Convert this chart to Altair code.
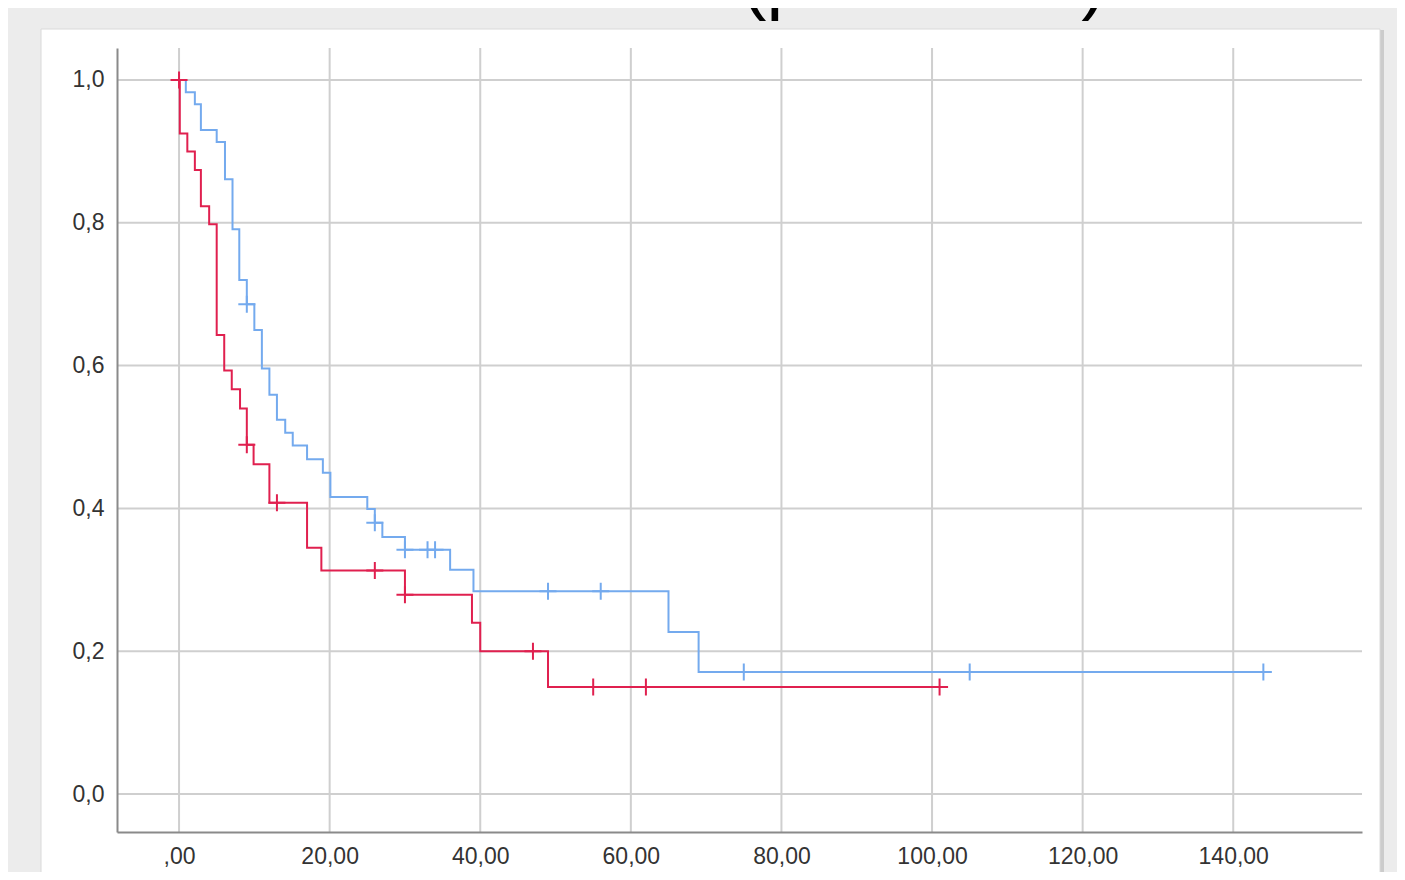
import altair as alt
import pandas as pd

# ---- data ----
x_ticks = [0, 20, 40, 60, 80, 100, 120, 140]
y_ticks = [0.0, 0.2, 0.4, 0.6, 0.8, 1.0]

blue_event_t = [0.9, 2.1, 2.9, 5.0, 6.1, 7.1, 8.0, 9.0, 10.0, 11.0, 12.0, 13.0, 14.1, 15.1,
                17.0, 19.1, 20.1, 25.0, 26.0, 27.0, 30.0, 36.0, 39.1, 65.0, 69.0]
blue_event_s = [0.983, 0.966, 0.930, 0.913, 0.861, 0.791, 0.720, 0.686, 0.650, 0.596, 0.559,
                0.524, 0.506, 0.488, 0.469, 0.450, 0.416, 0.399, 0.380, 0.360, 0.342, 0.314,
                0.284, 0.227, 0.171]
blue_end = 145.0
blue_censor = [9.0, 26.0, 30.0, 33.0, 34.0, 49.0, 56.0, 75.0, 105.0, 144.0]

red_event_t = [0.1, 1.1, 2.1, 2.9, 4.0, 5.0, 6.0, 7.0, 8.1, 9.0, 9.9, 12.0, 17.0, 18.9,
               30.0, 38.9, 40.0, 49.0]
red_event_s = [0.925, 0.900, 0.874, 0.823, 0.798, 0.643, 0.593, 0.567, 0.540, 0.489, 0.462,
               0.408, 0.345, 0.313, 0.279, 0.240, 0.200, 0.150]
red_end = 102.0
red_censor = [0.0, 9.0, 13.0, 26.0, 30.0, 47.0, 55.0, 62.0, 101.0]

title_text = "23.2 vs. 11.2 meses (p=0.0600)"

groups = ["azul", "rojo"]
colors = ["#74aaee", "#e0204f"]


def step_path(name, ts, ss, end):
    rows = [(name, 0, 0.0, 1.0)]
    prev = 1.0
    k = 1
    for t, s in zip(ts, ss):
        rows.append((name, k, t, prev)); k += 1
        rows.append((name, k, t, s)); k += 1
        prev = s
    rows.append((name, k, end, prev))
    return rows


def surv_at(ts, ss, t):
    val = 1.0
    for et, es in zip(ts, ss):
        if et <= t:
            val = es
    return val


path = pd.DataFrame(step_path(groups[0], blue_event_t, blue_event_s, blue_end)
                    + step_path(groups[1], red_event_t, red_event_s, red_end),
                    columns=["grupo", "orden", "t", "s"])
cens = pd.DataFrame(
    [(groups[0], t, surv_at(blue_event_t, blue_event_s, t)) for t in blue_censor]
    + [(groups[1], t, surv_at(red_event_t, red_event_s, t)) for t in red_censor],
    columns=["grupo", "t", "s"])

W, H = 1245, 784
xs = alt.Scale(domain=[-8.24, 157.1], nice=False, zero=False)
ys = alt.Scale(domain=[-0.0532, 1.0448], nice=False, zero=False)
cs = alt.Scale(domain=groups, range=colors)

one = pd.DataFrame({"k": [0]})

shadow = alt.Chart(one).mark_rect(fill="#c4c4c4", opacity=0.8).encode(
    x=alt.value(-74), x2=alt.value(1267), y=alt.value(-18), y2=alt.value(900))
panel = alt.Chart(one).mark_rect(fill="white", stroke="#dadada", strokeWidth=1).encode(
    x=alt.value(-76), x2=alt.value(1263), y=alt.value(-19), y2=alt.value(900))

vgrid = alt.Chart(pd.DataFrame({"v": x_ticks})).mark_rule(color="#cfcfcf", strokeWidth=2).encode(
    x=alt.X("v:Q", scale=xs), y=alt.value(0), y2=alt.value(H))
hgrid = alt.Chart(pd.DataFrame({"v": y_ticks})).mark_rule(color="#cfcfcf", strokeWidth=2).encode(
    y=alt.Y("v:Q", scale=ys), x=alt.value(0), x2=alt.value(W))

x_axis = alt.Axis(values=x_ticks, grid=False, ticks=False, domainColor="#8a8a8a", domainWidth=2,
                  labelFont="Liberation Sans", labelFontSize=23, labelColor="#333333",
                  labelPadding=13,
                  labelExpr="datum.value == 0 ? ',00' : replace(format(datum.value, '.2f'), '.', ',')",
                  title=None, zindex=1)
y_axis = alt.Axis(values=y_ticks, grid=False, ticks=False, domainColor="#8a8a8a", domainWidth=2,
                  labelFont="Liberation Sans", labelFontSize=23, labelColor="#333333",
                  labelPadding=13,
                  labelExpr="replace(format(datum.value, '.1f'), '.', ',')",
                  title=None, zindex=1)

lines = alt.Chart(path).mark_line(strokeWidth=2).encode(
    x=alt.X("t:Q", scale=xs, axis=x_axis),
    y=alt.Y("s:Q", scale=ys, axis=y_axis),
    color=alt.Color("grupo:N", scale=cs, legend=None),
    order="orden:Q")

marks = alt.Chart(cens).mark_point(shape="M-1,0L1,0M0,-1L0,1", size=289, filled=False,
                                   strokeWidth=2, opacity=1).encode(
    x=alt.X("t:Q", scale=xs),
    y=alt.Y("s:Q", scale=ys),
    color=alt.Color("grupo:N", scale=cs, legend=None))

title = alt.Chart(pd.DataFrame({"txt": [title_text]})).mark_text(
    align="left", baseline="alphabetic", font="Liberation Sans", fontSize=75,
    color="black").encode(x=alt.value(-62), y=alt.value(-42), text="txt:N")

chart = alt.layer(shadow, panel, vgrid, hgrid, lines, marks, title).properties(
    width=W, height=H,
    autosize=alt.AutoSizeParams(type="none"),
    padding={"left": 109, "top": 40, "right": 35, "bottom": 40},
    background="#ececec",
).configure_view(stroke=None)

chart.save("out.html", embed_options={"renderer": "svg", "actions": False})
